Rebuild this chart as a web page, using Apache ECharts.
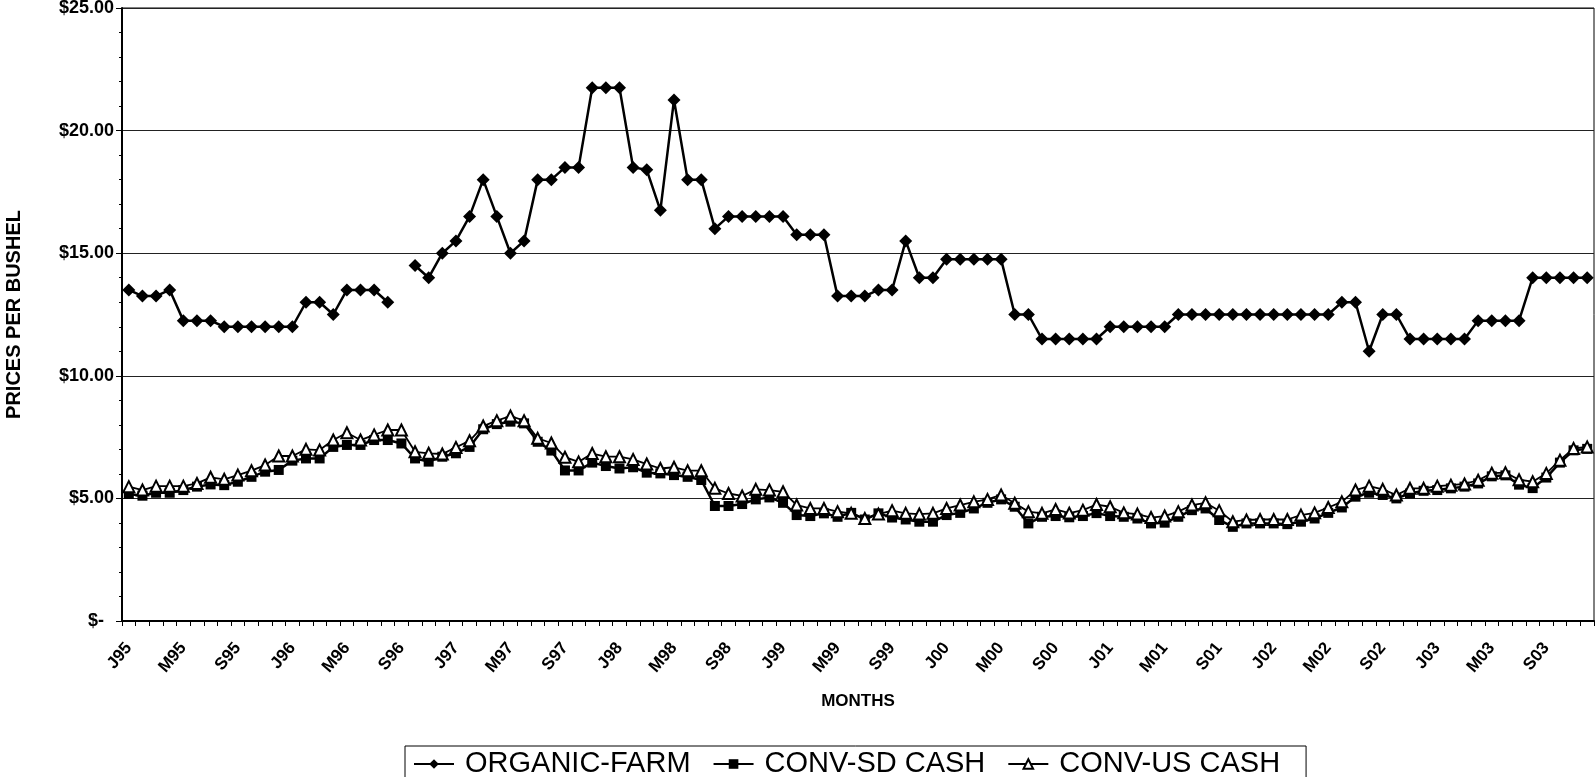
<!DOCTYPE html>
<html>
<head>
<meta charset="utf-8">
<script src="https://cdn.jsdelivr.net/npm/echarts@6/dist/echarts.min.js"></script>
<style>
html,body{margin:0;padding:0;background:#fff;}
#chart{width:1596px;height:777px;}
</style>
</head>
<body>
<div id="chart"></div>
<script>
// Month initials and years used to build the category labels (Jan 1995 - Dec 2003)
const monthInitials = ['J','F','M','A','M','J','J','A','S','O','N','D'];
const years = ['95','96','97','98','99','00','01','02','03'];
const categories = [];
years.forEach(y => monthInitials.forEach(m => categories.push(m + y)));

const yTickLabels = ['$-  ', '$5.00', '$10.00', '$15.00', '$20.00', '$25.00'];

const seriesNames = ['ORGANIC-FARM', 'CONV-SD CASH', 'CONV-US CASH'];

const organicFarm = [
  13.5, 13.25, 13.25, 13.5, 12.25, 12.25, 12.25, 12.0, 12.0, 12.0, 12.0, 12.0,
  12.0, 13.0, 13.0, 12.5, 13.5, 13.5, 13.5, 13.0, null, 14.5, 14.0, 15.0,
  15.5, 16.5, 18.0, 16.5, 15.0, 15.5, 18.0, 18.0, 18.5, 18.5, 21.75, 21.75,
  21.75, 18.5, 18.4, 16.75, 21.25, 18.0, 18.0, 16.0, 16.5, 16.5, 16.5, 16.5,
  16.5, 15.75, 15.75, 15.75, 13.25, 13.25, 13.25, 13.5, 13.5, 15.5, 14.0, 14.0,
  14.75, 14.75, 14.75, 14.75, 14.75, 12.5, 12.5, 11.5, 11.5, 11.5, 11.5, 11.5,
  12.0, 12.0, 12.0, 12.0, 12.0, 12.5, 12.5, 12.5, 12.5, 12.5, 12.5, 12.5,
  12.5, 12.5, 12.5, 12.5, 12.5, 13.0, 13.0, 11.0, 12.5, 12.5, 11.5, 11.5,
  11.5, 11.5, 11.5, 12.25, 12.25, 12.25, 12.25, 14.0, 14.0, 14.0, 14.0, 14.0
];

const convSdCash = [
  5.18, 5.11, 5.23, 5.23, 5.34, 5.48, 5.57, 5.54, 5.68, 5.88, 6.09, 6.16,
  6.54, 6.63, 6.63, 7.10, 7.18, 7.18, 7.38, 7.38, 7.24, 6.63, 6.50, 6.70,
  6.84, 7.10, 7.82, 8.03, 8.13, 8.06, 7.31, 6.95, 6.14, 6.14, 6.46, 6.32,
  6.22, 6.27, 6.05, 6.02, 5.95, 5.88, 5.75, 4.69, 4.69, 4.77, 4.96, 5.04,
  4.82, 4.32, 4.28, 4.39, 4.25, 4.41, 4.14, 4.39, 4.22, 4.14, 4.05, 4.05,
  4.32, 4.41, 4.59, 4.82, 4.96, 4.66, 3.98, 4.25, 4.28, 4.23, 4.28, 4.40,
  4.28, 4.25, 4.18, 3.98, 4.01, 4.25, 4.52, 4.59, 4.12, 3.84, 3.98, 3.98,
  3.98, 3.95, 4.05, 4.18, 4.41, 4.63, 5.07, 5.23, 5.14, 5.00, 5.20, 5.31,
  5.34, 5.41, 5.48, 5.61, 5.90, 5.94, 5.56, 5.42, 5.85, 6.46, 6.96, 7.02
];

const convUsCash = [
  5.48, 5.34, 5.50, 5.50, 5.50, 5.61, 5.86, 5.78, 5.95, 6.13, 6.36, 6.73,
  6.73, 7.00, 6.97, 7.38, 7.68, 7.38, 7.59, 7.79, 7.79, 6.90, 6.84, 6.81,
  7.08, 7.35, 7.95, 8.17, 8.36, 8.17, 7.45, 7.26, 6.68, 6.49, 6.83, 6.70,
  6.70, 6.59, 6.40, 6.22, 6.27, 6.13, 6.13, 5.41, 5.20, 5.10, 5.37, 5.34,
  5.27, 4.73, 4.59, 4.59, 4.46, 4.39, 4.18, 4.36, 4.50, 4.39, 4.36, 4.39,
  4.59, 4.73, 4.86, 4.96, 5.14, 4.80, 4.46, 4.39, 4.55, 4.40, 4.52, 4.75,
  4.66, 4.41, 4.36, 4.22, 4.28, 4.46, 4.73, 4.82, 4.50, 4.05, 4.12, 4.14,
  4.14, 4.14, 4.32, 4.41, 4.63, 4.86, 5.34, 5.50, 5.37, 5.14, 5.41, 5.41,
  5.50, 5.54, 5.59, 5.74, 6.03, 6.05, 5.76, 5.68, 6.02, 6.56, 7.04, 7.10
];

const FONT = '"Liberation Sans", Arial, sans-serif';
const chart = echarts.init(document.getElementById('chart'), null, {renderer: 'canvas'});

chart.setOption({
  backgroundColor: '#fff',
  animation: false,
  grid: {
    left: 122, right: 2, top: 8, bottom: 156,
    containLabel: false, outerBoundsMode: 'none',
    show: true, borderColor: '#000', borderWidth: 1, backgroundColor: 'transparent'
  },
  legend: {
    left: 405, top: 746,
    data: seriesNames,
    orient: 'horizontal',
    itemWidth: 40, itemHeight: 12, itemGap: 22,
    padding: [3, 26, 10, 8],
    borderColor: '#000', borderWidth: 1,
    textStyle: {fontFamily: FONT, fontSize: 29, color: '#000', lineHeight: 30, padding: [0, 0, 0, 6]}
  },
  xAxis: {
    type: 'category',
    data: categories,
    boundaryGap: true,
    name: 'MONTHS',
    nameLocation: 'middle',
    nameGap: 72,
    nameTextStyle: {fontFamily: FONT, fontSize: 17, fontWeight: 'bold', color: '#000'},
    axisLine: {lineStyle: {color: '#000', width: 2}},
    axisTick: {show: true, interval: 0, length: 5, lineStyle: {color: '#000', width: 1}},
    axisLabel: {
      interval: 3, rotate: 50, margin: 24,
      fontFamily: FONT, fontSize: 17, fontWeight: 'bold', color: '#000'
    },
    splitLine: {show: false}
  },
  yAxis: {
    type: 'value',
    min: 0, max: 25, interval: 5,
    name: 'PRICES PER BUSHEL',
    nameLocation: 'middle',
    nameGap: 98,
    nameTextStyle: {fontFamily: FONT, fontSize: 20, fontWeight: 'bold', color: '#000'},
    axisLine: {show: true, lineStyle: {color: '#000', width: 2}},
    axisTick: {show: true, length: 6, lineStyle: {color: '#000', width: 1}},
    minorTick: {show: true, splitNumber: 5, length: 3, lineStyle: {color: '#000'}},
    axisLabel: {
      margin: 8,
      fontFamily: FONT, fontSize: 18, fontWeight: 'bold', color: '#000',
      formatter: v => yTickLabels[Math.round(v / 5)]
    },
    splitLine: {show: true, lineStyle: {color: '#222', width: 1}}
  },
  series: [
    {
      name: seriesNames[0], type: 'line', data: organicFarm,
      connectNulls: false, showAllSymbol: true,
      symbol: 'diamond', symbolSize: 13,
      itemStyle: {color: '#000'},
      lineStyle: {color: '#000', width: 2.5},
      z: 3
    },
    {
      name: seriesNames[1], type: 'line', data: convSdCash,
      showAllSymbol: true,
      symbol: 'rect', symbolSize: 10,
      itemStyle: {color: '#000'},
      lineStyle: {color: '#000', width: 2.5},
      z: 4
    },
    {
      name: seriesNames[2], type: 'line', data: convUsCash,
      showAllSymbol: true,
      symbol: 'triangle', symbolSize: 11,
      itemStyle: {color: '#fff', borderColor: '#000', borderWidth: 2},
      lineStyle: {color: '#000', width: 1.8},
      z: 5
    }
  ]
});
</script>
</body>
</html>
